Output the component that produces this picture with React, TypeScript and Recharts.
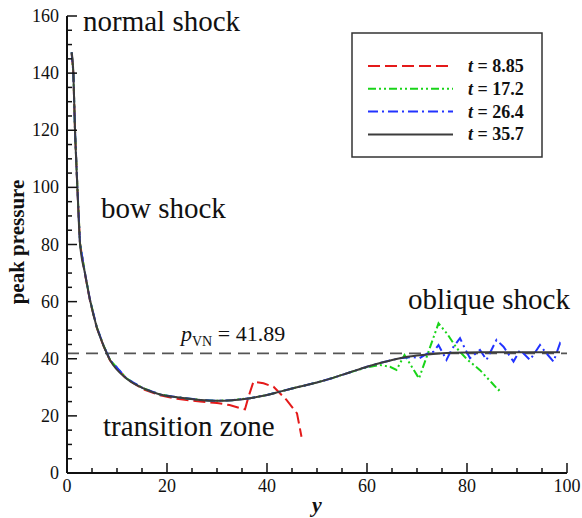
import React from 'react';
import { LineChart, Line, XAxis, YAxis, ReferenceLine } from 'recharts';

const FONT = '"Liberation Serif", "Times New Roman", serif';

// t = 35.7 (black, settled profile)
const blackX = [0.93, 1.27, 1.6, 2.07, 2.6, 3.6, 4.6, 5.93, 7.27, 8.6, 11.9, 15.3, 18.6, 22, 26.6, 30, 33, 36.6, 40, 42.6, 46, 50, 53.2, 56.5, 60, 63, 66.6, 70, 73.2, 77, 82.6, 90, 98.6];
const blackV = [147.3, 140, 120, 100.2, 80.4, 69.9, 60.6, 51.2, 44.8, 39.6, 33.1, 29.6, 27.5, 26.5, 25.6, 25.3, 25.5, 26.2, 27.3, 28.5, 30, 31.7, 33.3, 35.2, 37.2, 38.7, 40.2, 41.1, 41.7, 42.1, 42.3, 42.3, 42.3];

// t = 8.85 (red)
const redX = [0.93, 1.27, 1.6, 2.07, 2.6, 3.6, 4.6, 5.93, 7.27, 8.6, 11.9, 15.3, 18.6, 22, 26.6, 30, 32.5, 34.5, 35.6, 36.3, 37.3, 39.3, 41.3, 43.9, 46, 46.9];
const redV = [147, 140, 120, 100, 80.4, 69.6, 60.3, 51, 44.6, 39.4, 32.9, 29.3, 27.2, 26, 25, 24.5, 23.8, 22.8, 22.3, 26.7, 32, 31.4, 30.2, 25.6, 20.9, 12.7];

// t = 17.2 (green)
const greenX = [0.93, 1.27, 1.6, 2.07, 2.6, 3.6, 4.6, 5.93, 7.27, 8.6, 11.9, 15.3, 18.6, 22, 26.6, 30, 33, 36.6, 40, 42.6, 46, 50, 53.2, 56.5, 60, 62.6, 64.6, 65.9, 67.5, 70.4, 74.3, 76, 78, 80, 82.6, 85, 86.3, 87];
const greenV = [147.3, 140, 120, 100.2, 80.4, 69.9, 60.6, 51.2, 44.8, 39.6, 33.1, 29.6, 27.5, 26.5, 25.6, 25.3, 25.5, 26.2, 27.3, 28.5, 30, 31.7, 33.3, 35.2, 37, 37.8, 37.2, 36.1, 41.3, 33.1, 52.4, 48.8, 43.6, 39.8, 36, 31.5, 29, 29.8];

// t = 26.4 (blue)
const blueX = [0.93, 1.27, 1.6, 2.07, 2.6, 3.6, 4.6, 5.93, 7.27, 8.6, 11.9, 15.3, 18.6, 22, 26.6, 30, 33, 36.6, 40, 42.6, 46, 50, 53.2, 56.5, 60, 63, 66.6, 69, 70.5, 72, 73.3, 74.3, 75.9, 77, 78.6, 79.6, 80.6, 82.6, 83.9, 85.9, 87.3, 89.3, 90.6, 92.6, 94.6, 95.6, 97.3, 98.6, 99];
const blueV = [147.3, 140, 120, 100.2, 80.4, 69.9, 60.6, 51.2, 44.8, 39.6, 33.1, 29.6, 27.5, 26.5, 25.6, 25.3, 25.5, 26.2, 27.3, 28.5, 30, 31.7, 33.3, 35.2, 37.2, 38.7, 40.2, 40.6, 40.2, 41.8, 42.5, 44.8, 39.6, 43.5, 47.2, 43.5, 40.2, 43.1, 39.6, 46.6, 44.2, 39, 43.1, 39.6, 44.8, 42.5, 39, 45.4, 44.5];

const pVN = 41.89;
const xTicks = Array.from({ length: 21 }, (_, i) => i * 5);
const yTicks = Array.from({ length: 33 }, (_, i) => i * 5);

const zip = (xs: number[], vs: number[]) => xs.map((x, i) => ({ x, v: vs[i] }));

const series = [
  { name: '8.85', color: '#e41a1a', dash: '12 5', width: 2, data: zip(redX, redV) },
  { name: '17.2', color: '#19d419', dash: '8 3 2 3 2 3', width: 2, data: zip(greenX, greenV) },
  { name: '26.4', color: '#2233ff', dash: '10 4 2 4', width: 2, data: zip(blueX, blueV) },
  { name: '35.7', color: '#3c3c3c', dash: undefined, width: 2, data: zip(blackX, blackV) },
];

function XTick({ x, y, payload }: any) {
  const major = payload.value % 20 === 0;
  return (
    <g>
      <line x1={x} y1={y} x2={x} y2={y - (major ? 10 : 5)} stroke="#111" strokeWidth={1.5} />
      {major && (
        <text x={x} y={y + 19} textAnchor="middle" fontSize={18} fontFamily={FONT} fill="#111">
          {payload.value}
        </text>
      )}
    </g>
  );
}

function YTick({ x, y, payload }: any) {
  const major = payload.value % 20 === 0;
  return (
    <g>
      <line x1={x} y1={y} x2={x + (major ? 10 : 5)} y2={y} stroke="#111" strokeWidth={1.5} />
      {major && (
        <text x={x - 8} y={y + 6} textAnchor="end" fontSize={18} fontFamily={FONT} fill="#111">
          {payload.value}
        </text>
      )}
    </g>
  );
}

function LegendBox() {
  return (
    <g fontFamily={FONT}>
      <rect x={352} y={33} width={190} height={124} fill="#fff" stroke="#333" strokeWidth={1.5} />
      {series.map((s, i) => {
        const cy = 66 + i * 22.8;
        return (
          <g key={s.name}>
            <line x1={368} y1={cy} x2={453} y2={cy} stroke={s.color} strokeWidth={2} strokeDasharray={s.dash} />
            <text x={468} y={cy + 6} fontSize={18} fontWeight="bold" fill="#111">
              <tspan fontStyle="italic">t</tspan> = {s.name}
            </text>
          </g>
        );
      })}
    </g>
  );
}

export default function App() {
  return (
    <div style={{ width: 582, height: 518, background: '#fff' }}>
      <style>{`body{margin:0;}`}</style>
      <LineChart width={582} height={518} margin={{ top: 16, right: 15, bottom: 0, left: 0 }}>
        <XAxis
          type="number"
          dataKey="x"
          domain={[0, 100]}
          ticks={xTicks}
          interval={0}
          height={45}
          tickSize={0}
          tickMargin={0}
          tickLine={false}
          axisLine={{ stroke: '#111', strokeWidth: 2 }}
          tick={<XTick />}
          allowDataOverflow
        />
        <YAxis
          type="number"
          domain={[0, 160]}
          ticks={yTicks}
          interval={0}
          width={67}
          tickSize={0}
          tickMargin={0}
          tickLine={false}
          axisLine={{ stroke: '#111', strokeWidth: 2 }}
          tick={<YTick />}
          allowDataOverflow
        />
        <ReferenceLine y={pVN} stroke="#555" strokeWidth={1.8} strokeDasharray="12 7" />
        {series.map((s) => (
          <Line
            key={s.name}
            data={s.data}
            dataKey="v"
            type={s.dash ? 'linear' : 'monotone'}
            stroke={s.color}
            strokeWidth={s.width}
            strokeDasharray={s.dash}
            dot={false}
            activeDot={false}
            isAnimationActive={false}
          />
        ))}
        <LegendBox />
        <g fontFamily={FONT} fill="#111">
          <text x={83} y={31} fontSize={29}>normal shock</text>
          <text x={101} y={218} fontSize={29}>bow shock</text>
          <text x={103} y={436} fontSize={29}>transition zone</text>
          <text x={408} y={309} fontSize={29}>oblique shock</text>
          <text x={181} y={341} fontSize={22}>
            <tspan fontStyle="italic">p</tspan>
            <tspan fontSize={14} dy={5}>VN</tspan>
            <tspan dy={-5}> = 41.89</tspan>
          </text>
          <text x={317} y={512} fontSize={22} fontWeight="bold" fontStyle="italic" textAnchor="middle">y</text>
          <text
            transform="translate(24, 242) rotate(-90)"
            fontSize={21}
            fontWeight="bold"
            textAnchor="middle"
          >
            peak pressure
          </text>
        </g>
      </LineChart>
    </div>
  );
}
